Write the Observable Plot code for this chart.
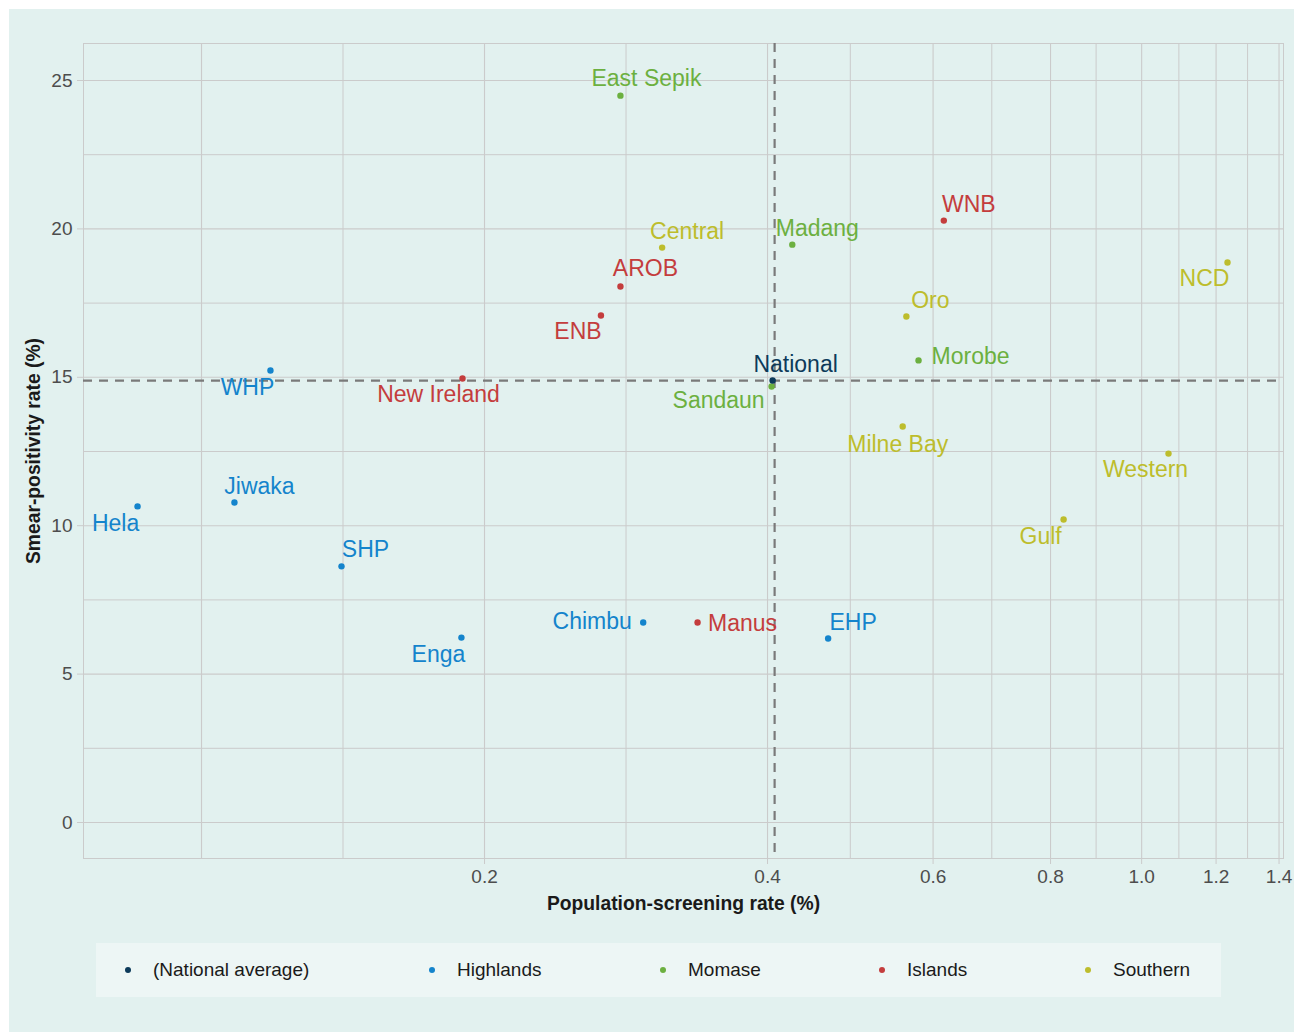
<!DOCTYPE html>
<html>
<head>
<meta charset="utf-8">
<script src="https://cdn.jsdelivr.net/npm/d3@7"></script>
<script src="https://cdn.jsdelivr.net/npm/@observablehq/plot@0.6"></script>
<style>
  html, body { margin: 0; padding: 0; background: #ffffff; }
  #wrap {
    position: absolute; left: 9px; top: 9px; width: 1285px; height: 1023px;
    background: #e2f1ef; font-family: "Liberation Sans", Arial, sans-serif;
  }
  #chart { position: absolute; left: 0; top: 0; }
  #legend {
    position: absolute; left: 87px; top: 934px; width: 1125px; height: 54px;
    background: #edf6f5;
  }
  .item { position: absolute; top: 0; height: 54px; line-height: 54px; font-size: 19px; color: #1a1a1a; white-space: nowrap; }
  .dot { position: absolute; top: 24px; width: 6px; height: 6px; border-radius: 50%; }
</style>
</head>
<body>
<div id="wrap">
  <div id="chart"></div>
  <div id="legend"></div>
</div>
<script>
// ---- Data ----
const regionNames = ["(National average)", "Highlands", "Momase", "Islands", "Southern"];
const regionColors = ["#0c3a5a", "#1484cc", "#6cb040", "#c43d3d", "#bdbd2c"];

const provinces = ["Hela", "Jiwaka", "WHP", "SHP", "Enga", "Chimbu", "EHP",
  "East Sepik", "Madang", "Morobe", "Sandaun",
  "WNB", "AROB", "ENB", "New Ireland", "Manus",
  "Central", "NCD", "Oro", "Milne Bay", "Western", "Gulf",
  "National"];
const provinceRegion = ["Highlands", "Highlands", "Highlands", "Highlands", "Highlands", "Highlands", "Highlands",
  "Momase", "Momase", "Momase", "Momase",
  "Islands", "Islands", "Islands", "Islands", "Islands",
  "Southern", "Southern", "Southern", "Southern", "Southern", "Southern",
  "(National average)"];
const screeningRate = [0.0855, 0.1084, 0.1184, 0.1409, 0.189, 0.295, 0.464,
  0.279, 0.425, 0.579, 0.404,
  0.616, 0.279, 0.266, 0.1895, 0.337,
  0.309, 1.234, 0.562, 0.557, 1.068, 0.826,
  0.405];
const smearPositivity = [10.65, 10.78, 15.23, 8.63, 6.23, 6.74, 6.20,
  24.49, 19.47, 15.57, 14.69,
  20.28, 18.06, 17.08, 14.96, 6.74,
  19.37, 18.87, 17.05, 13.34, 12.43, 10.21,
  14.89];

const nationalScreening = 0.407;
const nationalPositivity = 14.89;

const xGridBreaks = [0.1, 0.2, 0.4, 0.6, 0.8, 1.0, 1.2, 1.4];
const xTicks = [0.2, 0.4, 0.6, 0.8, 1.0, 1.2, 1.4];
const xTickLabels = ["0.2", "0.4", "0.6", "0.8", "1.0", "1.2", "1.4"];
const yTicks = [0, 5, 10, 15, 20, 25];

// label offsets (pixels) – layout, kept apart from the data
const labelNudge = {
  "Hela": [-22, 17], "Jiwaka": [25, -16], "WHP": [-23, 17], "SHP": [24, -17],
  "Enga": [-23, 17], "Chimbu": [-51, -1], "EHP": [25, -16],
  "East Sepik": [26, -17], "Madang": [25, -16], "Morobe": [52, -4], "Sandaun": [-53, 14],
  "WNB": [25, -16], "AROB": [25, -18], "ENB": [-23, 16], "New Ireland": [-24, 16], "Manus": [45, 1],
  "Central": [25, -16], "NCD": [-23, 16], "Oro": [24, -16], "Milne Bay": [-5, 18],
  "Western": [-23, 16], "Gulf": [-23, 17], "National": [23, -16]
};

// ---- Build ----
const data = provinces.map((p, i) => ({
  name: p, region: provinceRegion[i], x: screeningRate[i], y: smearPositivity[i]
}));
const colorOf = r => regionColors[regionNames.indexOf(r)];

// minor grid at midpoints (log space) between major breaks, as ggplot does
const xMinor = xGridBreaks.slice(1).map((t, i) => Math.sqrt(t * xGridBreaks[i]));
const yMinor = yTicks.slice(1).map((t, i) => (t + yTicks[i]) / 2);

const gridColor = "#cbcbcb";

const labelMarks = data.map(d => Plot.text([d], {
  x: "x", y: "y", text: "name",
  dx: labelNudge[d.name][0], dy: labelNudge[d.name][1],
  fill: colorOf(d.region), fontSize: 23, textAnchor: "middle", lineAnchor: "middle"
}));

const chart = Plot.plot({
  width: 1285,
  height: 911,
  marginLeft: 74,
  marginRight: 11,
  marginTop: 34,
  marginBottom: 62,
  style: { background: "transparent", fontFamily: "Liberation Sans, Arial, sans-serif" },
  x: { type: "log", domain: [0.0749, 1.4154] },
  y: { domain: [-1.213, 26.247] },
  marks: [
    Plot.ruleX(xMinor, { stroke: gridColor, strokeWidth: 1 }),
    Plot.ruleY(yMinor, { stroke: gridColor, strokeWidth: 1 }),
    Plot.ruleX(xGridBreaks, { stroke: gridColor, strokeWidth: 1.1 }),
    Plot.ruleY(yTicks, { stroke: gridColor, strokeWidth: 1.1 }),
    Plot.frame({ stroke: gridColor }),
    Plot.axisX({
      ticks: xTicks, tickFormat: d => xTickLabels[xTicks.indexOf(d)],
      tickSize: 6, tickPadding: 5, fontSize: 19, fill: "#4d4d4d", stroke: gridColor, label: null
    }),
    Plot.axisY({
      ticks: yTicks, tickFormat: d => String(d),
      tickSize: 6, tickPadding: 5, fontSize: 19, fill: "#4d4d4d", stroke: gridColor, label: null
    }),
    Plot.ruleX([nationalScreening], { stroke: "#7a7a7a", strokeWidth: 2.2, strokeDasharray: "9,7" }),
    Plot.ruleY([nationalPositivity], { stroke: "#7a7a7a", strokeWidth: 2.2, strokeDasharray: "9,7" }),
    Plot.dot(data, { x: "x", y: "y", r: 3.2, fill: d => colorOf(d.region), stroke: null }),
    ...labelMarks,
    Plot.text(["Population-screening rate (%)"], {
      frameAnchor: "bottom", dy: 45, fontSize: 19.3, fontWeight: "bold", fill: "#1a1a1a",
      textAnchor: "middle", lineAnchor: "middle"
    }),
    Plot.text(["Smear-positivity rate (%)"], {
      frameAnchor: "left", dx: -50, rotate: -90, fontSize: 19.3, fontWeight: "bold", fill: "#1a1a1a",
      textAnchor: "middle", lineAnchor: "middle"
    })
  ]
});
document.getElementById("chart").appendChild(chart);

// ---- Legend ----
const legendDotX = [32, 336, 567, 786, 992];
const legend = document.getElementById("legend");
regionNames.forEach((r, i) => {
  const dot = document.createElement("div");
  dot.className = "dot";
  dot.style.left = (legendDotX[i] - 3) + "px";
  dot.style.background = regionColors[i];
  legend.appendChild(dot);
  const lab = document.createElement("div");
  lab.className = "item";
  lab.style.left = (legendDotX[i] + 25) + "px";
  lab.textContent = r;
  legend.appendChild(lab);
});
</script>
</body>
</html>
